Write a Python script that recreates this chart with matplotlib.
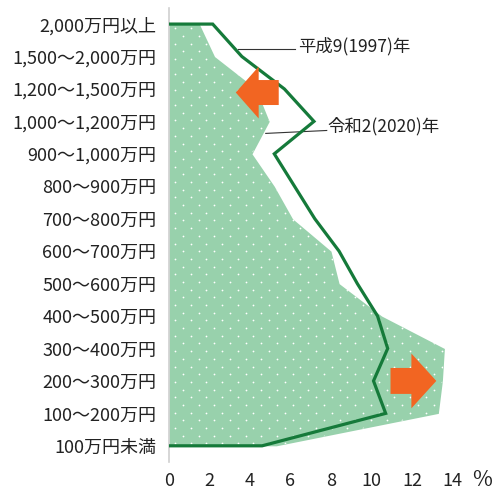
import matplotlib
matplotlib.use("Agg")
import matplotlib.pyplot as plt
import numpy as np
from matplotlib.patches import FancyArrow, Polygon

plt.rcParams['font.family'] = ['Noto Sans CJK JP', 'DejaVu Sans']

# categories from bottom to top
categories = ["100万円未満", "100～200万円", "200～300万円", "300～400万円",
              "400～500万円", "500～600万円", "600～700万円", "700～800万円",
              "800～900万円", "900～1,000万円", "1,000～1,200万円",
              "1,200～1,500万円", "1,500～2,000万円", "2,000万円以上"]
# 令和2(2020)年 (filled area), %
reiwa2 = [5.3, 13.3, 13.5, 13.6, 10.5, 8.4, 8.0, 6.1, 5.2, 4.1, 4.95, 4.3, 2.25, 1.5]
# 平成9(1997)年 (line), %
heisei9 = [4.6, 10.7, 10.1, 10.8, 10.3, 9.3, 8.4, 7.2, 6.2, 5.2, 7.16, 5.7, 3.6, 2.16]
xticks = [0, 2, 4, 6, 8, 10, 12, 14]

fill_c = '#98d1ac'
line_c = '#157a3a'
arrow_c = '#f26522'

fig = plt.figure(figsize=(4.94, 4.91), dpi=100)
ax = fig.add_axes([0.342, 0.059, 0.615, 0.925])

y = np.arange(len(categories))

# filled area
ax.fill_betweenx(y, 0, reiwa2, color=fill_c, linewidth=0, zorder=1)

# white dot texture clipped to the area
gx, gy = np.meshgrid(np.arange(0.3, 15, 0.774), np.arange(-0.4, 13.6, 0.237))
gx = gx + (np.arange(gx.shape[0])[:, None] % 2) * 0.387
dots = ax.scatter(gx.ravel(), gy.ravel(), s=1.6, color='white', linewidths=0, zorder=2)
clip = Polygon(np.column_stack([[0] + reiwa2 + [0], [0] + list(y) + [len(y) - 1]]),
               transform=ax.transData, closed=True)
dots.set_clip_path(clip)

# line (outline incl. ends back to axis)
lx = [0] + heisei9 + [0]
ly = [0] + list(y) + [len(y) - 1]
ax.plot(lx, ly, color=line_c, linewidth=2.3, zorder=4, solid_joinstyle='miter')

# arrows
ax.add_patch(FancyArrow(5.42, 10.89, -2.12, 0, width=0.77, head_width=1.6,
                        head_length=1.13, length_includes_head=True,
                        color=arrow_c, linewidth=0, zorder=5))
ax.add_patch(FancyArrow(10.94, 2.0, 2.26, 0, width=0.8, head_width=1.69,
                        head_length=1.23, length_includes_head=True,
                        color=arrow_c, linewidth=0, zorder=5))

# labels with leader lines
ax.plot([3.4, 6.2], [12.22, 12.22], color='#333333', linewidth=0.8, zorder=3)
ax.text(6.36, 12.31, "平成9(1997)年", fontsize=12.5, va='center', ha='left', color='#222222')
ax.plot([4.78, 7.79], [9.63, 9.72], color='#333333', linewidth=0.8, zorder=3)
ax.text(7.84, 9.85, "令和2(2020)年", fontsize=12.5, va='center', ha='left', color='#222222')

ax.set_xlim(0, 15)
ax.set_ylim(-0.5, 13.5)
ax.set_yticks(y)
ax.set_yticklabels(categories, fontsize=13, color='#222222')
ax.set_xticks(xticks)
ax.set_xticklabels([str(t) for t in xticks], fontsize=13, color='#222222')
ax.tick_params(axis='both', length=0)
ax.tick_params(axis='y', pad=9)
ax.tick_params(axis='x', pad=7)
for s in ['top', 'right', 'bottom']:
    ax.spines[s].set_visible(False)
ax.spines['left'].set_color('#d0d0d0')
ax.spines['left'].set_linewidth(1.2)

fig.text(482 / 494, 1 - 480 / 491, "%", fontsize=15.5, ha='center', va='center', color='#222222')

fig.savefig("out.png", dpi=100)
